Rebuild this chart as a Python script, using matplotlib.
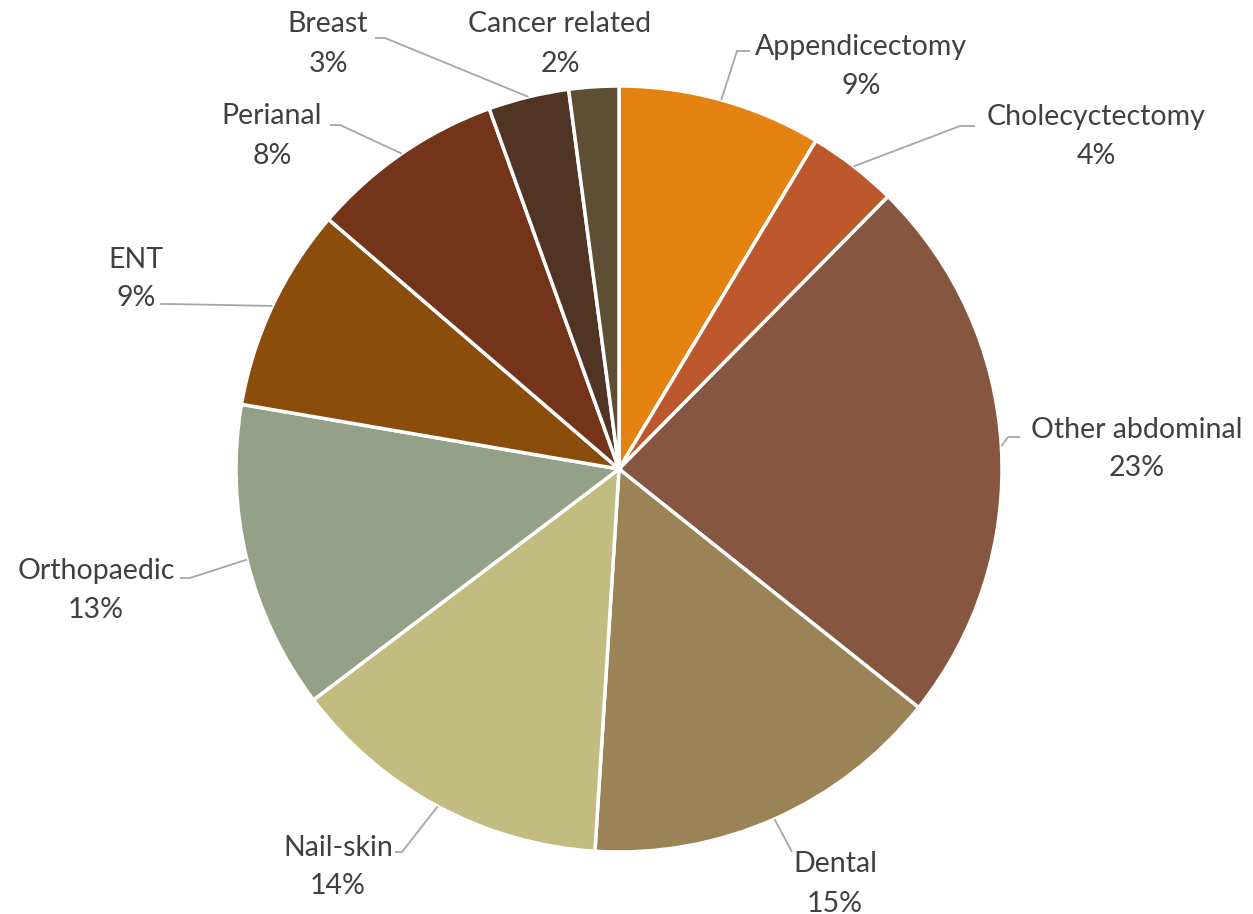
import matplotlib
matplotlib.use("Agg")
import matplotlib.pyplot as plt
import numpy as np

categories = ["Appendicectomy", "Cholecyctectomy", "Other abdominal", "Dental", "Nail-skin",
              "Orthopaedic", "ENT", "Perianal", "Breast", "Cancer related"]
values = [8.6, 3.8, 23.3, 15.3, 13.7, 13.0, 8.6, 8.2, 3.4, 2.1]
colors = ["#E48312", "#BD582C", "#865640", "#9B8357", "#C2BC80",
          "#94A088", "#8B4D0B", "#74341A", "#523425", "#5D4E34"]

W, H = 1253, 914
fig = plt.figure(figsize=(W / 100, H / 100), dpi=100)
ax = fig.add_axes([0, 0, 1, 1])

cx, cy, R = 619, H - 469, 383
wedges, _ = ax.pie(values, colors=colors, startangle=90, counterclock=False,
                   center=(cx, cy), radius=R, frame=True,
                   wedgeprops=dict(edgecolor="white", linewidth=2.5))
ax.set_xlim(0, W)
ax.set_ylim(0, H)
ax.set_aspect("equal")
ax.axis("off")

total = sum(values)
# layout: name-line centre (pixel, y from top), leader elbow points (pixel) or None
layout = {
    "Appendicectomy": ((861, 44), [(737, 51), (750, 51)]),
    "Cholecyctectomy": ((1096, 115), [(960, 126), (975, 126)]),
    "Other abdominal": ((1137, 427), [(1008, 437), (1020, 437)]),
    "Dental": ((835, 862), [(792, 852)]),
    "Nail-skin": ((338, 845), [(402, 852), (395, 852)]),
    "Orthopaedic": ((96, 568), [(190, 578), (180, 578)]),
    "ENT": ((136, 257), [(170, 304), (160, 304)]),
    "Perianal": ((272, 114), [(340, 125), (330, 125)]),
    "Breast": ((328, 22), [(385, 38), (375, 38)]),
    "Cancer related": ((560, 22), None),
}

font = dict(fontsize=20.5, color="#404040", family=["Lato", "DejaVu Sans"])
for w, name, v in zip(wedges, categories, values):
    (tx, ty), elbow = layout[name]
    ax.text(tx, H - ty, name, ha="center", va="center_baseline", **font)
    ax.text(tx, H - ty - 39, f"{round(v / total * 100):.0f}%", ha="center",
            va="center_baseline", **font)
    if elbow:
        th = np.deg2rad((w.theta1 + w.theta2) / 2)
        ax_pt = (cx + R * np.cos(th), cy + R * np.sin(th))
        xs = [ax_pt[0]] + [p[0] for p in elbow]
        ys = [ax_pt[1]] + [H - p[1] for p in elbow]
        ax.plot(xs, ys, color="#A6A6A6", linewidth=1.3, solid_capstyle="butt")

fig.savefig("out.png", dpi=100, facecolor="white")
